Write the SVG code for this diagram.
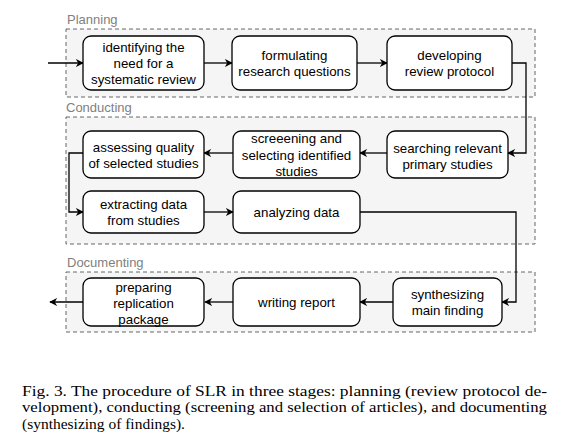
<svg xmlns="http://www.w3.org/2000/svg" width="569" height="445" viewBox="0 0 569 445">
<defs>
<style>
.stage{fill:#f5f5f5;stroke:#666666;stroke-width:1;stroke-dasharray:4 3;}
.lbl{font-family:"Liberation Sans",Arial,sans-serif;font-size:13px;fill:#808080;}
.box{fill:#ffffff;stroke:#000000;stroke-width:1.3;}
.t{font-family:"Liberation Sans",Arial,sans-serif;font-size:13.3px;fill:#000000;text-anchor:middle;}
.edge{fill:none;stroke:#000000;stroke-width:1.3;marker-end:url(#arr);}
.cap{font-family:"Liberation Serif","Times New Roman",Times,"Nimbus Roman","Nimbus Roman No9 L",Tinos,FreeSerif,serif;font-size:15.5px;fill:#000000;}
</style>
<marker id="arr" viewBox="0 0 10 10" refX="9" refY="5" markerWidth="8" markerHeight="8" markerUnits="userSpaceOnUse" orient="auto">
<path d="M0,0 L10,5 L0,10 L3,5 Z" fill="#000000"/>
</marker>
</defs>
<rect width="569" height="445" fill="#ffffff"/>

<g id="stage-planning">
<rect class="stage" x="66" y="29" width="469" height="68"/>
<text class="lbl" x="67" y="24">Planning</text>
</g>
<g id="stage-conducting">
<rect class="stage" x="66" y="117" width="469" height="127"/>
<text class="lbl" x="66" y="112">Conducting</text>
</g>
<g id="stage-documenting">
<rect class="stage" x="66" y="272" width="469" height="60"/>
<text class="lbl" x="67" y="267">Documenting</text>
</g>

<g id="connectors">
<path class="edge" d="M48,63 L83,63"/>
<path class="edge" d="M204,63 L232,63"/>
<path class="edge" d="M357,63 L387,63"/>
<path class="edge" d="M512,63 L526,63 L526,153 L508,153"/>
<path class="edge" d="M387,153 L360,153"/>
<path class="edge" d="M233,153 L204,153"/>
<path class="edge" d="M83,153 L69,153 L69,212 L83,212"/>
<path class="edge" d="M204,212 L233,212"/>
<path class="edge" d="M360,212 L516,212 L516,302 L502,302"/>
<path class="edge" d="M393,302 L360,302"/>
<path class="edge" d="M233,302 L205,302"/>
<path class="edge" d="M83,302 L50,302"/>
</g>

<g id="n-identify">
<rect class="box" x="83" y="36" width="121" height="54" rx="8"/>
<text class="t" x="143.5" y="52">identifying the</text>
<text class="t" x="143.5" y="68">need for a</text>
<text class="t" x="143.5" y="84">systematic review</text>
</g>
<g id="n-formulate">
<rect class="box" x="232" y="36" width="125" height="54" rx="8"/>
<text class="t" x="294.5" y="59.5">formulating</text>
<text class="t" x="294.5" y="75.5">research questions</text>
</g>
<g id="n-protocol">
<rect class="box" x="387" y="36" width="125" height="54" rx="8"/>
<text class="t" x="449.5" y="59.5">developing</text>
<text class="t" x="449.5" y="75.5">review protocol</text>
</g>

<g id="n-searching">
<rect class="box" x="387" y="131" width="121" height="47" rx="8"/>
<text class="t" x="447.5" y="152.5">searching relevant</text>
<text class="t" x="447.5" y="168.5">primary studies</text>
</g>
<g id="n-screening">
<rect class="box" x="233" y="131" width="127" height="47" rx="8"/>
<text class="t" x="296.5" y="143">screeening and</text>
<text class="t" x="296.5" y="159.5">selecting identified</text>
<text class="t" x="296.5" y="176">studies</text>
</g>
<g id="n-assessing">
<rect class="box" x="83" y="131" width="121" height="47" rx="8"/>
<text class="t" x="143.5" y="152">assessing quality</text>
<text class="t" x="143.5" y="168">of selected studies</text>
</g>
<g id="n-extracting">
<rect class="box" x="83" y="191" width="121" height="42" rx="8"/>
<text class="t" x="143.5" y="209">extracting data</text>
<text class="t" x="143.5" y="224.5">from studies</text>
</g>
<g id="n-analyzing">
<rect class="box" x="233" y="191" width="127" height="42" rx="8"/>
<text class="t" x="296.5" y="216.5">analyzing data</text>
</g>

<g id="n-synthesizing">
<rect class="box" x="393" y="278" width="109" height="48" rx="8"/>
<text class="t" x="447.5" y="298.5">synthesizing</text>
<text class="t" x="447.5" y="314.5">main finding</text>
</g>
<g id="n-writing">
<rect class="box" x="233" y="278" width="127" height="48" rx="8"/>
<text class="t" x="296.5" y="306.5">writing report</text>
</g>
<g id="n-preparing">
<rect class="box" x="83" y="278" width="121" height="48" rx="8"/>
<text class="t" x="143.5" y="291.5">preparing</text>
<text class="t" x="143.5" y="307.5">replication</text>
<text class="t" x="143.5" y="323.5">package</text>
</g>

<g id="caption">
<text class="cap" x="22" y="395.5" textLength="525" lengthAdjust="spacingAndGlyphs">Fig. 3.  The procedure of SLR in three stages: planning (review protocol de-</text>
<text class="cap" x="22" y="412" textLength="525" lengthAdjust="spacingAndGlyphs">velopment), conducting (screening and selection of articles), and documenting</text>
<text class="cap" x="22" y="428.5" textLength="163" lengthAdjust="spacingAndGlyphs">(synthesizing of findings).</text>
</g>
</svg>
